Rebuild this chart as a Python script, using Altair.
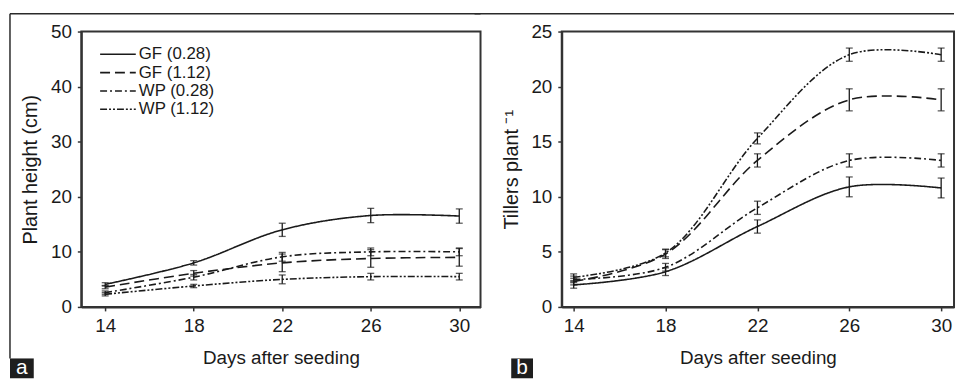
import altair as alt
import pandas as pd

days = [14, 18, 22, 26, 30]
series_names = ["GF (0.28)", "GF (1.12)", "WP (0.28)", "WP (1.12)"]
dash_patterns = [[1, 0], [10, 5], [7, 3, 2, 3], [7, 2, 2, 2, 2, 2]]

# Panel a: plant height (cm)
height_gf028 = [4.1, 8.0, 14.0, 16.6, 16.5]
height_gf112 = [3.6, 6.1, 8.0, 8.8, 9.0]
height_wp028 = [2.6, 5.4, 9.1, 10.0, 10.0]
height_wp112 = [2.3, 3.8, 5.0, 5.5, 5.5]
height_err_gf028 = [0.3, 0.4, 1.2, 1.3, 1.3]
height_err_gf112 = [0.3, 0.5, 1.6, 1.6, 1.6]
height_err_wp028 = [0.3, 0.5, 0.8, 0.7, 0.7]
height_err_wp112 = [0.3, 0.3, 0.8, 0.6, 0.6]

# Panel b: tillers per plant
till_gf028 = [2.0, 3.2, 7.3, 10.9, 10.8]
till_gf112 = [2.3, 4.8, 13.3, 18.8, 18.8]
till_wp028 = [2.5, 3.6, 9.0, 13.3, 13.3]
till_wp112 = [2.7, 4.9, 15.3, 22.9, 22.9]
till_err_gf028 = [0.3, 0.35, 0.6, 0.9, 0.9]
till_err_gf112 = [0.3, 0.4, 0.6, 1.0, 1.0]
till_err_wp028 = [0.3, 0.35, 0.6, 0.6, 0.6]
till_err_wp112 = [0.3, 0.35, 0.5, 0.6, 0.6]

FONT = "Liberation Sans"
INK = "#1a1a1a"
FRAME = "#2a2a2a"


def make_df(means, errs):
    rows = []
    for name, m, e in zip(series_names, means, errs):
        for d, v, s in zip(days, m, e):
            rows.append({"day": d, "series": name, "value": v, "lo": v - s, "hi": v + s})
    return pd.DataFrame(rows)


def panel(df, ytitle, ymax, ystep, xdom, width, height, letter, lab_x, lab_w,
          leg_x, leg_y, frame_x0, frame_x1, left_frame):
    xs = alt.Scale(domain=xdom, nice=False, zero=False)
    ys = alt.Scale(domain=[0, ymax], nice=False)
    xax = alt.Axis(values=days, title="Days after seeding", grid=False, tickSize=4,
                   labelPadding=6, titlePadding=13, domainWidth=2,
                   labelFontSize=19, titleFontSize=19)
    yax = alt.Axis(values=list(range(0, ymax + 1, ystep)), title=ytitle, grid=False,
                   tickSize=4, labelPadding=6, titlePadding=10, domainWidth=2,
                   labelFontSize=19, titleFontSize=20)
    base = alt.Chart(df)
    lines = base.mark_line(interpolate="catmull-rom", strokeWidth=1.6, color=INK).encode(
        x=alt.X("day:Q", scale=xs, axis=xax),
        y=alt.Y("value:Q", scale=ys, axis=yax),
        strokeDash=alt.StrokeDash(
            "series:N",
            scale=alt.Scale(domain=series_names, range=dash_patterns),
            legend=alt.Legend(
                title=None, orient="none", legendX=leg_x, legendY=leg_y,
                symbolType="M-3.5,0H1", symbolSize=256, symbolStrokeWidth=1.6,
                symbolStrokeColor=INK, labelFontSize=17, labelFont=FONT,
                labelColor=INK, labelOffset=2, rowPadding=1.5, padding=0,
            ),
        ),
        detail="series:N",
    )
    bars = base.mark_rule(strokeWidth=1.3, color=INK).encode(
        x="day:Q", y="lo:Q", y2="hi:Q"
    )
    caps_lo = base.mark_tick(orient="horizontal", size=7, thickness=1.3, color=INK).encode(
        x="day:Q", y="lo:Q"
    )
    caps_hi = base.mark_tick(orient="horizontal", size=7, thickness=1.3, color=INK).encode(
        x="day:Q", y="hi:Q"
    )
    lab_df = pd.DataFrame({"label": [letter]})
    box = alt.Chart(lab_df).mark_rect(color="#1e1e1e").encode(
        x=alt.value(lab_x), x2=alt.value(lab_x + lab_w),
        y=alt.value(height + 52), y2=alt.value(height + 72),
    )
    txt = alt.Chart(lab_df).mark_text(color="white", fontSize=21, font=FONT,
                                      baseline="middle", align="center").encode(
        x=alt.value(lab_x + lab_w / 2), y=alt.value(height + 62), text="label:N"
    )
    top_frame = alt.Chart(lab_df).mark_rule(color=FRAME, strokeWidth=1.5).encode(
        x=alt.value(frame_x0), x2=alt.value(frame_x1), y=alt.value(-18)
    )
    layers = [lines, bars, caps_lo, caps_hi, box, txt, top_frame]
    if left_frame:
        side = alt.Chart(lab_df).mark_rule(color=FRAME, strokeWidth=1.5).encode(
            x=alt.value(lab_x), y=alt.value(-18), y2=alt.value(height + 52)
        )
        layers.append(side)
    return alt.layer(*layers).properties(width=width, height=height)


df_a = make_df([height_gf028, height_gf112, height_wp028, height_wp112],
               [height_err_gf028, height_err_gf112, height_err_wp028, height_err_wp112])
df_b = make_df([till_gf028, till_gf112, till_wp028, till_wp112],
               [till_err_gf028, till_err_gf112, till_err_wp028, till_err_wp112])

pa = panel(df_a, "Plant height (cm)", 50, 10, [12.92, 30.96], 403, 278, "a", -72, 24,
           38, 14, -72, 403, True)
pb = panel(df_b, "Tillers plant \u207b\u00b9", 25, 5, [13.48, 30.56], 396, 278, "b", -51, 22,
           19, 5, -88, 396, False)

chart = alt.hconcat(pa, pb, spacing=-10).properties(
    padding={"left": 0, "top": 2, "right": 0, "bottom": 0},
    background="white",
).configure_view(
    stroke="#333333", strokeWidth=2
).configure_axis(
    labelFont=FONT, titleFont=FONT, labelFontSize=19, titleFontSize=19,
    labelColor=INK, titleColor=INK, domainColor="#333333", tickColor="#333333",
    titleFontWeight="normal", tickWidth=1.5,
)

chart.save("out.html", embed_options={"renderer": "svg", "actions": False})
